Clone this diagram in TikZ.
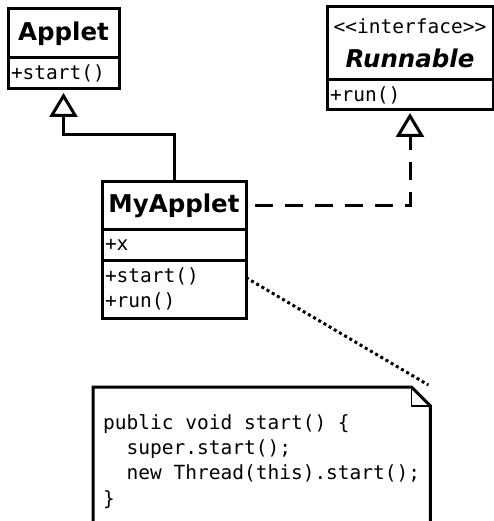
\documentclass[tikz,border=0pt]{standalone}
\usepackage{fontspec}
\newfontfamily\umlsans{DejaVu Sans}
\newfontfamily\umlmono{DejaVu Sans Mono}
\usetikzlibrary{arrows.meta,
                positioning}
\tikzset{
        umlbox/.style={draw, line width=3pt, outer sep=0pt, inner sep=0pt},
        classname/.style={umlbox, align=center,
                 font=\umlsans\bfseries\fontsize{24.5pt}{28pt}\selectfont},
        compart/.style={umlbox, inner xsep=3pt, align=left,
                 font=\umlmono\fontsize{19.5pt}{25pt}\selectfont},
        notebox/.style={inner xsep=10pt, inner ysep=27pt, text width=317pt,
                 align=left, font=\umlmono\fontsize{19.5pt}{25.3pt}\selectfont},
        inherit/.style={line width=3pt, -{Triangle[open, length=24pt, width=28pt]}},
        realize/.style={inherit, dash pattern=on 18pt off 12pt, dash phase=21pt},
        notelink/.style={line width=3pt, dash pattern=on 3pt off 3pt},
 }
% one full mono cell, for the code in the note
\newcommand\spc{\hspace*{0.602em}}

\begin{document}
\begin{tikzpicture}[x=1pt, y=-1pt]
    \useasboundingbox (0,0) rectangle (494,521);
    \clip (0,0) rectangle (494,521);

    % superclass
    \node[classname, anchor=north west, minimum width=111pt, minimum height=49pt]
        (applet) at (8,9) {Applet};
    \node[compart, below=0pt of applet, text width=105pt, minimum height=31pt]
        (appletops) {+start()};

    % interface
    \node[classname, anchor=north west, minimum width=166pt, minimum height=73pt]
        (runnable) at (327,7)
        {{\mdseries\umlmono\fontsize{19.5pt}{25pt}\selectfont <<interface>>}\\[6pt]
         \itshape Runnable};
    \node[compart, below=0pt of runnable, text width=160pt, minimum height=30pt]
        (runops) {+run()};

    % the class itself
    \node[classname, anchor=north west, minimum width=144pt, minimum height=47pt]
        (myapplet) at (102,182) {MyApplet};
    \node[compart, below=0pt of myapplet, text width=138pt, minimum height=31pt]
        (myattr) {+x};
    \node[compart, below=0pt of myattr, text width=138pt, minimum height=58pt]
        (myops) {+start()\\+run()};

    % note with folded corner
    \node[notebox, anchor=north west] (note) at (93,387)
    {public\spc void\spc start()\spc\{\\
     \spc\spc super.start();\\
     \spc\spc new\spc Thread(this).start();\\
     \}};
    \draw[line width=3pt, line join=miter] (note.south west) -- (note.north west)
        -- ([xshift=-19pt]note.north east) -- ([yshift=-19pt]note.north east)
        -- (note.south east);
    \draw[line width=1.5pt] ([xshift=-19pt]note.north east)
        |- ([yshift=-19pt]note.north east);

    % connectors
    \draw[inherit, shorten >=4pt] (myapplet.north) -- ++(0,-47) -| (appletops.south);
    \draw[realize, shorten >=3pt] (myapplet.east) -| (runops.south);
    \draw[notelink] (myops.9.5) -- ([shift={(-2pt,2pt)}]note.north east);
\end{tikzpicture}
\end{document}
